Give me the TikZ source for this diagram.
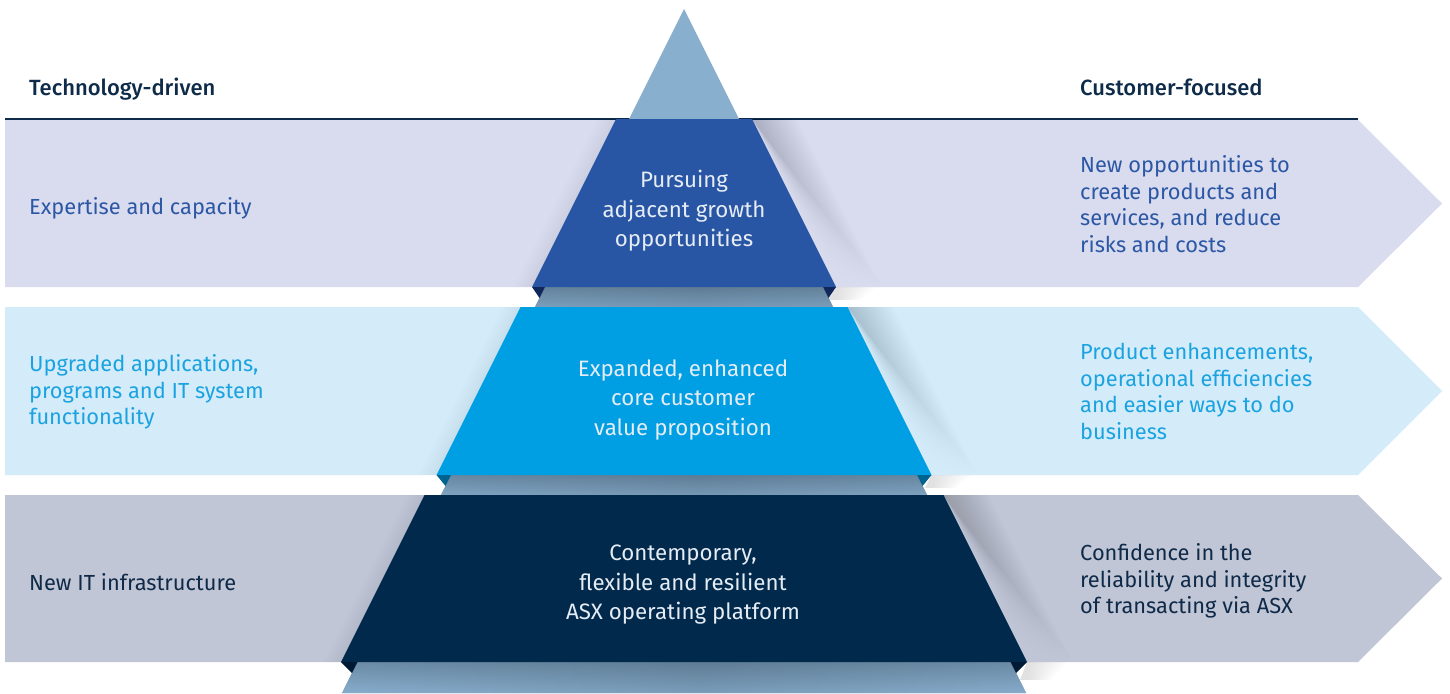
\documentclass[tikz,border=0pt]{standalone}
\usepackage{fontspec}
\setmainfont{Fira Sans}
\newfontfamily\medfont{Fira Sans Medium}
\usetikzlibrary{calc}
\definecolor{bandA}{HTML}{D9DBEE}
\definecolor{bandB}{HTML}{D4EBF9}
\definecolor{bandC}{HTML}{C0C6D5}
\definecolor{tierA}{HTML}{2856A5}
\definecolor{tierB}{HTML}{009FE3}
\definecolor{tierC}{HTML}{00294C}
\definecolor{foldA}{HTML}{10275A}
\definecolor{foldB}{HTML}{00628F}
\definecolor{foldC}{HTML}{001A36}
\definecolor{back}{HTML}{89AFCF}
\definecolor{backdark}{HTML}{5F7C94}
\definecolor{navy}{HTML}{0E2B4A}
\definecolor{txtA}{HTML}{2B57A5}
\definecolor{txtB}{HTML}{1AA3E0}
\definecolor{txtC}{HTML}{0F2A48}
\definecolor{tiertext}{HTML}{E6ECF4}
\tikzset{
  sidetext/.style={anchor=west, align=left, inner sep=0pt, font=\fontsize{21.8}{26.6}\selectfont},
  headtext/.style={anchor=base west, inner sep=0pt, text=navy, font=\medfont\fontsize{22}{26}\selectfont},
  tiertxt/.style={align=center, inner sep=0pt, text=tiertext, font=\fontsize{22.3}{29.5}\selectfont},
}
\begin{document}
\begin{tikzpicture}[x=1pt,y=-1pt]
\fill[white] (0,0) rectangle (1450,693);
\useasboundingbox (0,0) rectangle (1450,693);
% bands
\fill[bandA] (5,120) -- (1358,120) -- (1442,203.5) -- (1358,287) -- (5,287) -- cycle;
\fill[bandB] (5,307) -- (1358,307) -- (1442,391) -- (1358,475) -- (5,475) -- cycle;
\fill[bandC] (5,495) -- (1358,495) -- (1442,578.5) -- (1358,662) -- (5,662) -- cycle;
\draw[navy, line width=2pt] (5,119) -- (1358,119);
% soft shadows right of the tiers
\foreach \s in {3,6,...,45}{
  \fill[black, opacity=0.012] (752+\s,119) -- (836+\s,287) -- (752,119) -- cycle;
  \fill[black, opacity=0.012] (847.5+\s,307) -- (931.5+\s,475) -- (847.5,307) -- cycle;
  \fill[black, opacity=0.012] (943.5+\s,495) -- (1027+\s,662) -- (943.5,495) -- cycle;
}
\foreach \s in {4,8,...,40}{
  \fill[black, opacity=0.010] (836,287) -- (836+\s,287) -- (836+0.6*\s,300) -- (828,300) -- cycle;
  \fill[black, opacity=0.010] (931.5,475) -- (931.5+\s,475) -- (931.5+0.6*\s,488) -- (925,488) -- cycle;
  \fill[black, opacity=0.010] (1027,662) -- (1027+\s,662) -- (1027+0.6*\s,680) -- (1020,680) -- cycle;
}
\foreach \s in {3,6,...,18}{
  \fill[black, opacity=0.008] (616-\s,119) -- (532-\s,287) -- (532,287) -- (616,119) -- cycle;
  \fill[black, opacity=0.008] (520.5-\s,307) -- (436.5-\s,475) -- (436.5,475) -- (520.5,307) -- cycle;
  \fill[black, opacity=0.008] (424.5-\s,495) -- (341-\s,662) -- (341,662) -- (424.5,495) -- cycle;
}
% back pyramid
\fill[back] (684,9) -- (1026,693) -- (342,693) -- cycle;
\begin{scope}
  \clip (684,9) -- (1026,693) -- (342,693) -- cycle;
  \shade[top color=backdark, bottom color=back!85!backdark] (300,287) rectangle (1100,307);
  \shade[top color=backdark, bottom color=back!85!backdark] (300,475) rectangle (1100,495);
  \shade[top color=backdark, bottom color=back] (300,662) rectangle (1100,693);
  \shade[left color=back, right color=back, middle color=backdark, opacity=0.35] (300,287) rectangle (1100,307);
  \shade[left color=back, right color=back, middle color=backdark, opacity=0.35] (300,475) rectangle (1100,495);
  \shade[left color=back, right color=back, middle color=backdark, opacity=0.35] (300,662) rectangle (1100,693);
\end{scope}
% tiers
\fill[tierA] (616,119) -- (752,119) -- (836,287) -- (532,287) -- cycle;
\fill[foldA] (532,287) -- (545,287) -- (539.5,298) -- cycle;
\fill[foldA] (836,287) -- (823,287) -- (828.5,298) -- cycle;
\fill[tierB] (520.5,307) -- (847.5,307) -- (931.5,475) -- (436.5,475) -- cycle;
\fill[foldB] (436.5,475) -- (451,475) -- (445.5,486) -- cycle;
\fill[foldB] (931.5,475) -- (917,475) -- (922.5,486) -- cycle;
\fill[tierC] (424.5,495) -- (943.5,495) -- (1027,662) -- (341,662) -- cycle;
\fill[foldC] (341,662) -- (357.5,662) -- (352,673) -- cycle;
\fill[foldC] (1027,662) -- (1010.5,662) -- (1016,673) -- cycle;
% headers
\node[headtext] (hl) at (29,95) {Technology-driven};
\node[headtext] (hr) at (1080,95) {Customer-focused};
% side texts
\node[sidetext, text=txtA] (l1) at (29,208) {Expertise and capacity};
\node[sidetext, text=txtA] (r1) at (1080,204) {New opportunities to\\create products and\\services, and reduce\\risks and costs};
\node[sidetext, text=txtB] (l2) at (29,392) {Upgraded applications,\\programs and IT system\\functionality};
\node[sidetext, text=txtB] (r2) at (1080,391.5) {Product enhancements,\\operational efficiencies\\and easier ways to do\\business};
\node[sidetext, text=txtC] (l3) at (29,582) {New IT infrastructure};
\node[sidetext, text=txtC] (r3) at (1080,581) {Confidence in the\\reliability and integrity\\of transacting via ASX};
% tier texts
\node[tiertxt] (t1) at (684,211) {Pursuing\\adjacent growth\\opportunities};
\node[tiertxt] (t2) at (683,400) {Expanded, enhanced\\core customer\\value proposition};
\node[tiertxt] (t3) at (683,585) {Contemporary,\\flexible and resilient\\ASX operating platform};
\end{tikzpicture}
\end{document}
